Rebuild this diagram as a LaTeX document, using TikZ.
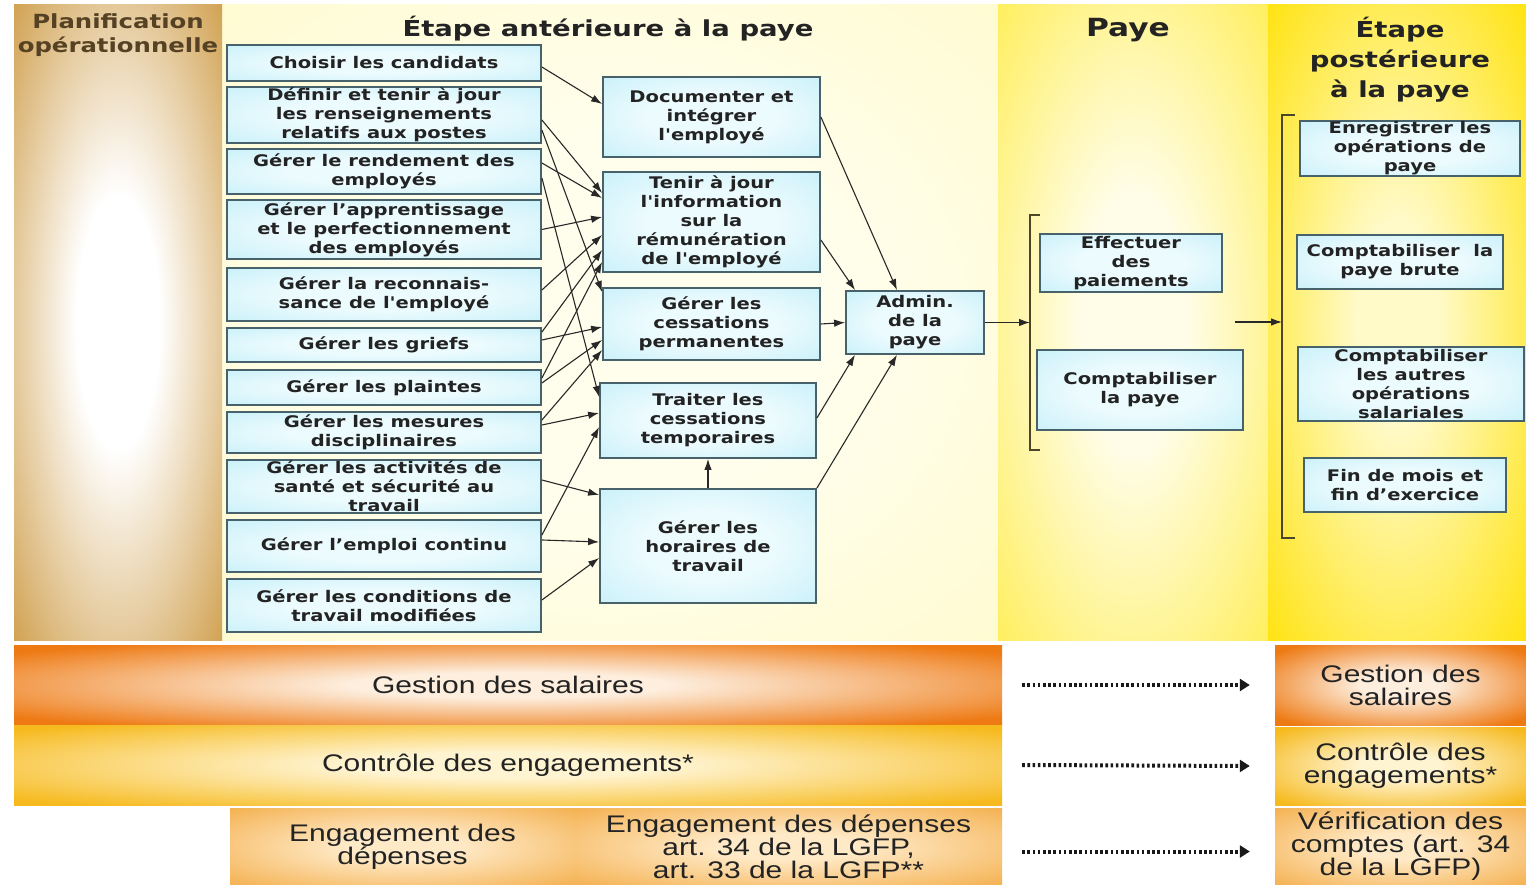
\documentclass[tikz,border=0pt]{standalone}
\usepackage{fontspec}
\usetikzlibrary{arrows.meta,calc}
\newfontfamily\boxfont[FakeStretch=1.22]{DejaVu Sans}
\newfontfamily\headfont[FakeStretch=1.25]{DejaVu Sans}
\newfontfamily\bandfont[FakeStretch=1.25]{Liberation Sans}
\definecolor{bordc}{RGB}{72,98,108}
\definecolor{boxin}{RGB}{236,251,254}
\definecolor{boxout}{RGB}{180,234,246}
\definecolor{txtc}{RGB}{35,35,35}
\definecolor{arrc}{RGB}{40,40,40}
\definecolor{gold}{RGB}{197,138,38}
\definecolor{plantxt}{RGB}{85,65,35}
\definecolor{antout}{RGB}{255,249,196}
\definecolor{antin}{RGB}{255,254,236}
\definecolor{payeout}{RGB}{255,236,70}
\definecolor{payein}{RGB}{255,253,232}
\definecolor{postout}{RGB}{255,225,0}
\definecolor{postin}{RGB}{255,250,200}
\definecolor{orout}{RGB}{238,122,20}
\definecolor{orin}{RGB}{253,238,222}
\definecolor{ylout}{RGB}{246,186,30}
\definecolor{ylin}{RGB}{255,244,210}
\definecolor{edout}{RGB}{244,176,78}
\definecolor{edin}{RGB}{255,234,200}
\definecolor{brc}{RGB}{75,70,40}
\definecolor{bandtxt}{RGB}{35,35,35}
\pgfdeclareradialshading{boxsh}{\pgfpoint{0bp}{0bp}}{color(0bp)=(boxin); color(15bp)=(boxin); color(50bp)=(boxout)}
\pgfdeclareradialshading{plansh}{\pgfpoint{0bp}{0bp}}{color(0bp)=(white); color(10bp)=(white); color(42bp)=(gold); color(50bp)=(gold)}
\pgfdeclareradialshading{antsh}{\pgfpoint{0bp}{0bp}}{color(0bp)=(antin); color(15bp)=(antin); color(46bp)=(antout); color(50bp)=(antout)}
\pgfdeclareradialshading{payesh}{\pgfpoint{0bp}{0bp}}{color(0bp)=(payein); color(10bp)=(payein); color(40bp)=(payeout); color(50bp)=(payeout)}
\pgfdeclareradialshading{postsh}{\pgfpoint{0bp}{0bp}}{color(0bp)=(postin); color(8bp)=(postin); color(38bp)=(postout); color(50bp)=(postout)}
\pgfdeclareradialshading{orsh}{\pgfpoint{0bp}{0bp}}{color(0bp)=(orin); color(8bp)=(orin); color(32bp)=(orout); color(50bp)=(orout)}
\pgfdeclareradialshading{ylsh}{\pgfpoint{0bp}{0bp}}{color(0bp)=(ylin); color(8bp)=(ylin); color(33bp)=(ylout); color(50bp)=(ylout)}
\pgfdeclareradialshading{edsh}{\pgfpoint{0bp}{0bp}}{color(0bp)=(edin); color(8bp)=(edin); color(36bp)=(edout); color(50bp)=(edout)}
\begin{document}
\begin{tikzpicture}[x=1pt,y=-1pt,
  wbox/.style={draw=bordc, line width=1.8pt, shade, shading=boxsh, text=txtc, align=center,
    inner xsep=0pt, inner ysep=-4pt, font=\boxfont\bfseries\fontsize{16}{19}\selectfont},
  lbox/.style={wbox, minimum width=314pt},
  conn/.style={draw=arrc, line width=1.1pt, -{Latex[length=11pt,width=7.5pt]}},
  headtxt/.style={font=\headfont\bfseries\fontsize{22}{30}\selectfont, text=txtc, align=center, inner sep=0pt},
  band/.style={shade, inner sep=0pt, align=center, text=bandtxt, font=\bandfont\fontsize{24}{23}\selectfont},
  dotarr/.style={draw=black!90, line width=4pt, dash pattern=on 2.6pt off 2.6pt, -{Triangle[length=10pt,width=12pt]}},
  brack/.style={draw=brc, line width=1.6pt}]
\useasboundingbox (0,0) rectangle (1526,885);
\fill[white] (0,0) rectangle (1526,885);
% background regions
\shade[shading=antsh] (222,5) rectangle (998,640);
\shade[shading=payesh] (998,5) rectangle (1268,640);
\shade[shading=postsh] (1268,5) rectangle (1526,640);
\shade[shading=plansh] (14,5) rectangle (222,640);
% headers
\node[headtxt, font=\headfont\bfseries\fontsize{19.5}{24}\selectfont, text=plantxt] (hplan) at (118,35) {Planification\\opérationnelle};
\node[headtxt] (hant) at (608,29) {Étape antérieure à la paye};
\node[headtxt, font=\headfont\bfseries\fontsize{25}{30}\selectfont] (hpaye) at (1128,30) {Paye};
\node[headtxt] (hpost) at (1400,60) {Étape\\postérieure\\à la paye};
% left column boxes
\node[lbox, minimum height=36pt] (l1) at (384,63) {Choisir les candidats};
\node[lbox, minimum height=56pt] (l2) at (384,115) {Définir et tenir à jour\\les renseignements\\relatifs aux postes};
\node[lbox, minimum height=45pt] (l3) at (384,171.5) {Gérer le rendement des\\employés};
\node[lbox, minimum height=59pt] (l4) at (384,229.5) {Gérer l’apprentissage\\et le perfectionnement\\des employés};
\node[lbox, minimum height=53pt] (l5) at (384,294.5) {Gérer la reconnais-\\sance de l'employé};
\node[lbox, minimum height=34pt] (l6) at (384,345) {Gérer les griefs};
\node[lbox, minimum height=35pt] (l7) at (384,387.5) {Gérer les plaintes};
\node[lbox, minimum height=41pt] (l8) at (384,432.5) {Gérer les mesures\\disciplinaires};
\node[lbox, minimum height=53pt] (l9) at (384,486.5) {Gérer les activités de\\santé et sécurité au\\travail};
\node[lbox, minimum height=52pt] (l10) at (384,546) {Gérer l’emploi continu};
\node[lbox, minimum height=53pt] (l11) at (384,605.5) {Gérer les conditions de\\travail modifiées};
% middle boxes
\node[wbox, minimum width=217pt, minimum height=80pt] (D) at (711.5,117) {Documenter et\\intégrer\\l'employé};
\node[wbox, minimum width=217pt, minimum height=100pt] (T) at (711.5,222) {Tenir à jour\\l'information\\sur la\\rémunération\\de l'employé};
\node[wbox, minimum width=217pt, minimum height=72pt] (P) at (711.5,324) {Gérer les\\cessations\\permanentes};
\node[wbox, minimum width=216pt, minimum height=75pt] (TC) at (708,420.5) {Traiter les\\cessations\\temporaires};
\node[wbox, minimum width=216pt, minimum height=114pt] (H) at (708,546) {Gérer les\\horaires de\\travail};
\node[wbox, minimum width=138pt, minimum height=63pt] (A) at (915,322.5) {Admin.\\de la\\paye};
% paye boxes
\node[wbox, minimum width=182pt, minimum height=58pt] (E) at (1131,263) {Effectuer\\des\\paiements};
\node[wbox, minimum width=206pt, minimum height=80pt] (CP) at (1140,390) {Comptabiliser\\la paye};
% post boxes
\node[wbox, minimum width=220pt, minimum height=55pt] (R1) at (1410,148.5) {Enregistrer les\\opérations de\\paye};
\node[wbox, minimum width=206pt, minimum height=54pt] (R2) at (1400,262) {Comptabiliser\ \ la\\paye brute};
\node[wbox, minimum width=226pt, minimum height=74pt] (R3) at (1411,384) {Comptabiliser\\les autres\\opérations\\salariales};
\node[wbox, minimum width=202pt, minimum height=54pt] (R4) at (1405,485) {Fin de mois et\\fin d’exercice};
% brackets
\draw[brack] (1040,215) -- (1030,215) -- (1030,450) -- (1040,450);
\draw[brack] (1295,115) -- (1282,115) -- (1282,538) -- (1295,538);
\coordinate (pb) at (1030,322.5);
\coordinate (qa) at (1235,322);
\coordinate (qb) at (1282,322);
% left -> middle connectors
\draw[conn] ([yshift=-4pt]l1.east) -- ([yshift=13pt]D.west);
\draw[conn] ([yshift=-5pt]l2.east) -- ([yshift=29pt]T.west);
\draw[conn] ([yshift=-15pt]l2.east) -- ([yshift=32pt]P.west);
\draw[conn] ([yshift=8.5pt]l3.east) -- ([yshift=24pt]T.west);
\draw[conn] ([yshift=-6.5pt]l3.east) -- ([yshift=23.5pt]TC.west);
\draw[conn] (l4.east) -- ([yshift=5pt]T.west);
\draw[conn] ([yshift=4.5pt]l5.east) -- ([yshift=-13pt]T.west);
\draw[conn] ([yshift=13pt]l6.east) -- ([yshift=-28pt]T.west);
\draw[conn] ([yshift=5pt]l6.east) -- ([yshift=-3pt]P.west);
\draw[conn] ([yshift=9.5pt]l7.east) -- ([yshift=-40pt]T.west);
\draw[conn] ([yshift=4.5pt]l7.east) -- ([yshift=-16pt]P.west);
\draw[conn] ([yshift=12.5pt]l8.east) -- ([yshift=-26pt]P.west);
\draw[conn] ([yshift=7.5pt]l8.east) -- ([yshift=7.5pt]TC.west);
\draw[conn] ([yshift=11pt]l10.east) -- ([yshift=-6.5pt]TC.west);
\draw[conn] ([yshift=6.5pt]l9.east) -- ([yshift=51pt]H.west);
\draw[conn] ([yshift=6pt]l10.east) -- ([yshift=4pt]H.west);
\draw[conn] ([yshift=5.5pt]l11.east) -- ([yshift=-12pt]H.west);
% middle -> admin
\draw[conn] (D.east) -- ([xshift=-18pt]A.north);
\draw[conn] ([yshift=-18pt]T.east) -- ([xshift=-60pt]A.north);
\draw[conn] (P.east) -- (A.west);
\draw[conn] ([yshift=2.5pt]TC.east) -- ([xshift=-60pt]A.south);
\draw[conn] (H.north east) -- ([xshift=-18pt]A.south);
\draw[conn] (H.north) -- (TC.south);
\draw[conn] (A.east) -- (pb);
\draw[conn] (qa) -- (qb);
% bottom bands
\node[band, shading=orsh, minimum width=988pt, minimum height=80pt] (gs) at (508,685) {Gestion des salaires};
\node[band, shading=ylsh, minimum width=988pt, minimum height=80pt] (ce) at (508,765) {Contrôle des engagements*};
\node[band, shading=edsh, minimum width=345pt, minimum height=77pt] (ed1) at (402.5,846.5) {Engagement des\\dépenses};
\node[band, shading=edsh, minimum width=427pt, minimum height=77pt] (ed2) at (788.5,846.5) {Engagement des dépenses\\art. 34 de la LGFP,\\art. 33 de la LGFP**};
\node[band, shading=orsh, minimum width=251pt, minimum height=80pt] (gs2) at (1400.5,685) {Gestion des\\salaires};
\node[band, shading=ylsh, minimum width=251pt, minimum height=78pt] (ce2) at (1400.5,766) {Contrôle des\\engagements*};
\node[band, shading=edsh, minimum width=251pt, minimum height=77pt] (vc) at (1400.5,846.5) {Vérification des\\comptes (art. 34\\de la LGFP)};
\draw[dotarr] ([xshift=20pt]gs.east) -- ([xshift=-25pt]gs2.west);
\draw[dotarr] ([xshift=20pt]ce.east) -- ([xshift=-25pt]ce2.west);
\draw[dotarr] ([xshift=20pt,yshift=-5pt]ed2.east) -- ([xshift=-25pt,yshift=-5pt]vc.west);
\end{tikzpicture}
\end{document}
